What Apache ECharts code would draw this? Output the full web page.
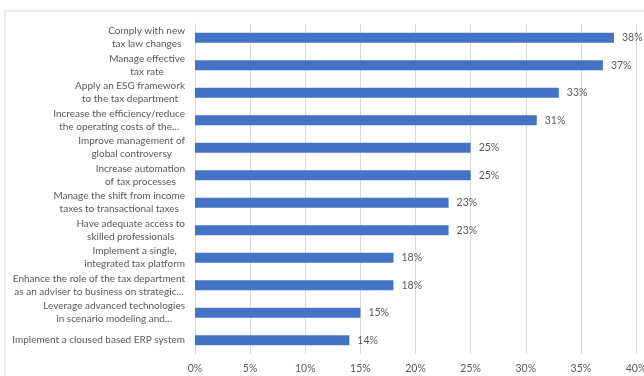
<!DOCTYPE html>
<html>
<head>
<meta charset="utf-8">
<script src="https://cdn.jsdelivr.net/npm/echarts@6/dist/echarts.min.js"></script>
<style>
  html, body { margin: 0; padding: 0; background: #fff; }
  #main { width: 644px; height: 376px; }
</style>
</head>
<body>
<div id="main"></div>
<script>
// 类别（从上到下）
var categories = [
  'Comply with new\ntax law changes',
  'Manage effective\ntax rate',
  'Apply an ESG framework\nto the tax department',
  'Increase the efficiency/reduce\nthe operating costs of the...',
  'Improve management of\nglobal controversy',
  'Increase automation\nof tax processes',
  'Manage the shift from income\ntaxes to transactional taxes',
  'Have adequate access to\nskilled professionals',
  'Implement a single,\nintegrated tax platform',
  'Enhance the role of the tax department\nas an adviser to business on strategic...',
  'Leverage advanced technologies\nin scenario modeling and...',
  'Implement a cloused based ERP system'
];
// 百分比
var values = [38, 37, 33, 31, 25, 25, 23, 23, 18, 18, 15, 14];
var axisMin = 0;
var axisMax = 40;
var axisStep = 5;

var myChart = echarts.init(document.getElementById('main'));
var font = 'Lato, "Open Sans", sans-serif';
var option = {
  animation: false,
  textStyle: { fontFamily: font },
  graphic: [{
    type: 'rect',
    shape: { x: 5, y: 11, width: 700, height: 400 },
    style: { fill: 'none', stroke: '#d9d9d9', lineWidth: 1 },
    silent: true,
    z: -1
  }],
  grid: { left: 195, right: 8, top: 24, bottom: 22, outerBoundsMode: 'none' },
  xAxis: {
    type: 'value',
    min: axisMin,
    max: axisMax,
    interval: axisStep,
    axisLine: { show: false },
    axisTick: { show: false },
    splitLine: { lineStyle: { color: '#d9d9d9' } },
    axisLabel: {
      formatter: '{value}%',
      color: '#595959',
      fontSize: 10.5,
      fontFamily: font,
      margin: 9
    }
  },
  yAxis: {
    type: 'category',
    inverse: true,
    data: categories,
    axisTick: { show: false },
    axisLine: { lineStyle: { color: '#d9d9d9' } },
    axisLabel: {
      margin: 10,
      // 多行居中
      formatter: function (v) {
        return v.split('\n').map(function (s) { return '{c|' + s + '}'; }).join('\n');
      },
      rich: {
        c: {
          align: 'center',
          color: '#595959',
          fontSize: 10,
          fontFamily: font,
          lineHeight: 13
        }
      }
    }
  },
  series: [{
    type: 'bar',
    data: values,
    barWidth: 10,
    itemStyle: { color: '#4472C4' },
    label: {
      show: true,
      position: 'right',
      distance: 8,
      formatter: '{c}%',
      color: '#595959',
      fontSize: 10.5,
      fontFamily: font
    }
  }]
};
myChart.setOption(option);
</script>
</body>
</html>
